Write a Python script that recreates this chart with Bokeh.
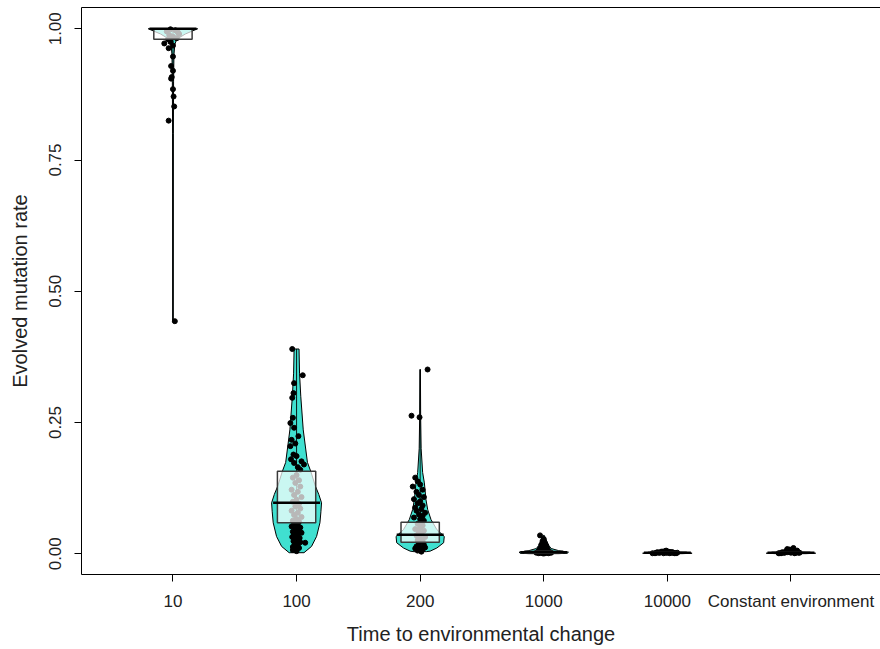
from bokeh.plotting import figure
from bokeh.models import FixedTicker, LinearAxis, Range1d
from bokeh.embed import file_html
from bokeh.resources import INLINE

categories = ["10", "100", "200", "1000", "10000", "Constant environment"]
positions = [1, 2, 3, 4, 5, 6]

# violin outline: value levels and half-widths (in category units)
violin_y = [
    [0.443, 0.80, 0.90, 0.95, 0.97, 0.98, 0.99, 1.000],
    [0.002, 0.014, 0.033, 0.059, 0.080, 0.097, 0.113, 0.129, 0.157, 0.174, 0.236, 0.300, 0.344, 0.390],
    [0.004, 0.005, 0.011, 0.021, 0.033, 0.046, 0.065, 0.084, 0.103, 0.135, 0.155, 0.200, 0.260, 0.351],
    [0.0002, 0.001, 0.003, 0.006, 0.010, 0.016, 0.024, 0.030, 0.035],
    [0.0002, 0.001, 0.002, 0.003, 0.004, 0.006],
    [0.0002, 0.001, 0.002, 0.003, 0.005, 0.008, 0.011],
]
violin_hw = [
    [0.002, 0.003, 0.005, 0.008, 0.015, 0.03, 0.10, 0.200],
    [0.060, 0.121, 0.162, 0.189, 0.197, 0.202, 0.180, 0.152, 0.115, 0.088, 0.054, 0.034, 0.024, 0.020],
    [0.050, 0.081, 0.135, 0.190, 0.195, 0.135, 0.088, 0.061, 0.047, 0.034, 0.020, 0.008, 0.004, 0.002],
    [0.120, 0.190, 0.200, 0.120, 0.060, 0.040, 0.025, 0.012, 0.004],
    [0.120, 0.200, 0.160, 0.080, 0.030, 0.005],
    [0.120, 0.200, 0.160, 0.080, 0.030, 0.010, 0.003],
]

box_q1 = [0.980, 0.059, 0.022, 0.001, 0.001, 0.001]
box_med = [1.000, 0.097, 0.036, 0.003, 0.002, 0.002]
box_q3 = [1.000, 0.157, 0.060, 0.005, 0.003, 0.003]
whisker_lo = [0.443, 0.003, 0.004, 0.000, 0.000, 0.000]
whisker_hi = [1.000, 0.390, 0.351, 0.035, 0.006, 0.011]

# jittered observations: x offset from the group centre and value
pts_dx = [
    [-0.03, -0.07, -0.02, -0.035, 0.00, 0.00, -0.015, 0.00, -0.01, -0.015, 0.00, 0.005, 0.01, -0.035, 0.015,
     -0.05, 0.02, 0.04, -0.02, 0.00, 0.03, -0.04, 0.05],
    [-0.035, 0.05, -0.02, -0.025, -0.035, -0.03, -0.05, -0.02, -0.04, 0.015, -0.01, -0.05, -0.025, 0.00, 0.04,
     -0.02, 0.06, 0.01, -0.045, 0.03,
     0.00, -0.03, 0.02, -0.01, 0.03, -0.04, 0.01, -0.02, 0.04, 0.00, -0.03, 0.02, -0.01, 0.03, -0.04, 0.01,
     -0.02, 0.04, 0.00, -0.03, 0.02,
     -0.02, 0.01, -0.04, 0.03, 0.00, -0.01, 0.02, -0.03, 0.04, 0.00, -0.02, 0.01, -0.035, 0.025, -0.01, 0.015,
     -0.025, 0.03, 0.00, 0.07, -0.015, 0.01, -0.03, 0.02, -0.02, -0.03, 0.00],
    [0.06, -0.07, -0.005, -0.04, -0.02, 0.00, -0.06, 0.02, -0.03, -0.01, 0.03, -0.05, 0.00, -0.02, 0.02, -0.04,
     0.01, -0.03, 0.04, -0.01, 0.02, -0.05, 0.00, 0.03,
     -0.02, 0.02, 0.00, -0.04, 0.03, -0.01, 0.01, -0.03, 0.04, 0.00, -0.02, 0.02,
     -0.01, 0.03, -0.03, 0.00, 0.02, -0.02, 0.01, -0.04, 0.04],
    [-0.03, 0.00, -0.01, 0.01, -0.02, 0.02, 0.00, -0.03, 0.03, -0.01, 0.01, -0.04, 0.04, 0.00, -0.02, 0.02,
     -0.05, 0.05, 0.00, -0.03, 0.03, -0.06, 0.06, -0.01, 0.01, -0.04, 0.04, 0.00],
    [-0.10, -0.07, -0.04, -0.01, 0.02, 0.05, 0.07, -0.08, -0.05, -0.02, 0.01, 0.04, -0.06, -0.03, 0.00, 0.03,
     0.06, -0.09, -0.04, 0.02, -0.12, 0.08, -0.01, 0.04],
    [-0.09, -0.06, -0.03, 0.00, 0.03, 0.06, -0.07, -0.04, -0.01, 0.02, 0.05, -0.05, -0.02, 0.01, 0.04, -0.08,
     0.07, -0.03, 0.02, -0.01, -0.10, 0.00, 0.03],
]
pts_val = [
    [0.988, 0.972, 0.975, 0.963, 0.968, 0.947, 0.929, 0.920, 0.908, 0.905, 0.885, 0.871, 0.852, 0.825, 0.443,
     0.995, 0.997, 0.993, 0.999, 0.985, 0.982, 0.980, 0.990],
    [0.390, 0.340, 0.325, 0.306, 0.297, 0.259, 0.249, 0.240, 0.217, 0.224, 0.210, 0.205, 0.189, 0.186, 0.176,
     0.173, 0.170, 0.165, 0.180, 0.160,
     0.150, 0.145, 0.140, 0.135, 0.128, 0.122, 0.118, 0.112, 0.108, 0.103, 0.099, 0.095, 0.090, 0.086, 0.082,
     0.078, 0.074, 0.070, 0.066, 0.063, 0.061,
     0.056, 0.054, 0.052, 0.050, 0.048, 0.046, 0.044, 0.042, 0.040, 0.038, 0.036, 0.034, 0.032, 0.030, 0.028,
     0.026, 0.024, 0.022, 0.020, 0.021, 0.018, 0.015, 0.013, 0.011, 0.008, 0.007, 0.005],
    [0.351, 0.263, 0.260, 0.145, 0.138, 0.132, 0.128, 0.122, 0.118, 0.112, 0.108, 0.104, 0.100, 0.096, 0.092,
     0.088, 0.085, 0.082, 0.078, 0.075, 0.072, 0.069, 0.066, 0.063,
     0.057, 0.054, 0.050, 0.047, 0.044, 0.041, 0.038, 0.035, 0.032, 0.029, 0.026, 0.024,
     0.020, 0.017, 0.014, 0.011, 0.008, 0.006, 0.004, 0.010, 0.012],
    [0.035, 0.028, 0.024, 0.020, 0.017, 0.015, 0.012, 0.010, 0.009, 0.008, 0.007, 0.006, 0.005, 0.005, 0.004,
     0.004, 0.003, 0.003, 0.003, 0.002, 0.002, 0.002, 0.002, 0.001, 0.001, 0.001, 0.001, 0.0005],
    [0.001, 0.002, 0.003, 0.002, 0.001, 0.002, 0.001, 0.003, 0.004, 0.005, 0.004, 0.003, 0.002, 0.001, 0.002,
     0.003, 0.001, 0.002, 0.004, 0.003, 0.001, 0.002, 0.006, 0.002],
    [0.001, 0.002, 0.003, 0.002, 0.001, 0.002, 0.003, 0.005, 0.008, 0.011, 0.006, 0.002, 0.004, 0.003, 0.002,
     0.001, 0.002, 0.009, 0.004, 0.007, 0.001, 0.003, 0.002],
]

FONT = "Liberation Sans"

p = figure(width=880, height=649, output_backend="svg", toolbar_location=None,
           x_range=Range1d(0.26, 6.7244), y_range=Range1d(-0.0395, 1.0405),
           min_border_left=81, min_border_right=0, min_border_top=7, min_border_bottom=75)
p.xgrid.visible = False
p.ygrid.visible = False
p.outline_line_color = None
p.background_fill_color = "white"

# violins
for i, xc in enumerate(positions):
    ys = violin_y[i] + violin_y[i][::-1]
    xs = [xc - h for h in violin_hw[i]] + [xc + h for h in violin_hw[i][::-1]]
    p.patch(xs, ys, fill_color="#40E0D0", line_color="black", line_width=1)

# whiskers
p.segment(x0=positions, y0=whisker_lo, x1=positions, y1=whisker_hi, line_color="black", line_width=0.9)

# points
for i, xc in enumerate(positions):
    p.scatter([xc + d for d in pts_dx[i]], pts_val[i], size=5, fill_color="black", line_color="black")

# boxes
BOX_HW = 0.155
MED_HW = 0.19
p.quad(left=[x - BOX_HW for x in positions], right=[x + BOX_HW for x in positions],
       bottom=box_q1, top=box_q3, fill_color="white", fill_alpha=0.72,
       line_color="#3a3a3a", line_width=1.5)
p.segment(x0=[x - MED_HW for x in positions], y0=box_med, x1=[x + MED_HW for x in positions], y1=box_med,
          line_color="black", line_width=2.5)

# axes
p.xaxis.ticker = FixedTicker(ticks=positions)
p.xaxis.major_label_overrides = {pos: lab for pos, lab in zip(positions, categories)}
p.yaxis.ticker = FixedTicker(ticks=[0.0, 0.25, 0.5, 0.75, 1.0])
p.yaxis.major_label_overrides = {0.0: "0.00", 0.25: "0.25", 0.5: "0.50", 0.75: "0.75", 1.0: "1.00"}
p.yaxis.major_label_orientation = "vertical"
p.xaxis.axis_label = "Time to environmental change"
p.yaxis.axis_label = "Evolved mutation rate"
for ax in (p.xaxis[0], p.yaxis[0]):
    ax.axis_line_color = "black"
    ax.axis_line_width = 1
    ax.major_tick_out = 7
    ax.major_tick_in = 0
    ax.minor_tick_out = 0
    ax.minor_tick_in = 0
    ax.major_tick_line_color = "black"
    ax.major_label_text_font = FONT
    ax.major_label_text_font_size = "17px"
    ax.major_label_text_color = "#222222"
    ax.axis_label_text_font = FONT
    ax.axis_label_text_font_size = "20px"
    ax.axis_label_text_font_style = "normal"
    ax.axis_label_text_color = "#222222"
p.xaxis.major_label_standoff = 10
p.xaxis.axis_label_standoff = 9
p.yaxis.major_label_standoff = 13
p.yaxis.axis_label_standoff = 16

top = LinearAxis(ticker=FixedTicker(ticks=[]), axis_line_color="black", major_tick_out=0, major_tick_in=0,
                 minor_tick_out=0, minor_tick_in=0, major_label_text_font_size="0px")
p.add_layout(top, "above")

open("out.html", "w").write(file_html(p, INLINE))
